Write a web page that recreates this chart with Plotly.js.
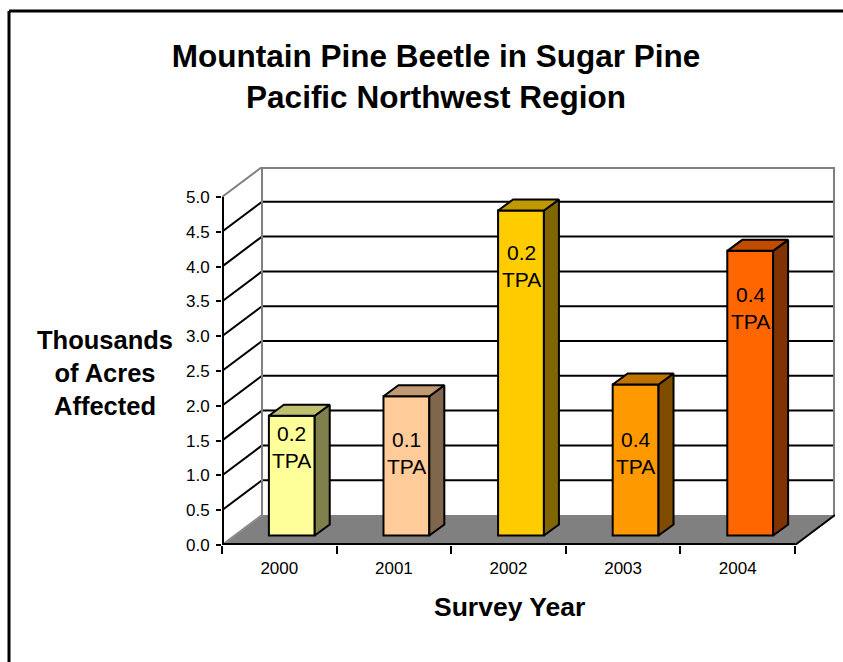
<!DOCTYPE html>
<html>
<head>
<meta charset="utf-8">
<script src="https://cdn.plot.ly/plotly-3.0.1.min.js"></script>
<style>html,body{margin:0;padding:0;background:#fff;}#chart{width:843px;height:662px;}</style>
</head>
<body>
<div id="chart"></div>
<script>
// ---- data ----
const years = ['2000', '2001', '2002', '2003', '2004'];
const acres = [1.72, 2.0, 4.67, 2.17, 4.09];          // thousands of acres affected
const tpa = ['0.2', '0.1', '0.2', '0.4', '0.4'];       // trees per acre labels
const yTicks = [0, 0.5, 1, 1.5, 2, 2.5, 3, 3.5, 4, 4.5, 5];
const yTickText = ['0.0', '0.5', '1.0', '1.5', '2.0', '2.5', '3.0', '3.5', '4.0', '4.5', '5.0'];
const labelHeights = [1.41, 1.32, 4.01, 1.32, 3.41];   // label centres, value units

// ---- styles ----
const faceColors = ['#FFFF99', '#FFCC99', '#FFCC00', '#FF9900', '#FF6600'];
const sideColors = ['#80804C', '#80664C', '#806600', '#804C00', '#803300'];
const topColors  = ['#BFBF72', '#BF9972', '#BF9900', '#BF7200', '#BF4C00'];
const FONT = 'Liberation Sans, Arial, sans-serif';

// ---- geometry (pixel scale of the reference) ----
const W = 843, H = 662;
const M = {l: 222, r: 8, t: 167, b: 117};
const PX_CAT = 114.6, PX_VAL = 69.6;
const WX = 40 / PX_CAT, WY = 30 / PX_VAL;   // wall depth
const BX = 15 / PX_CAT, BY = 11 / PX_VAL;   // bar depth
const SX = (WX - BX) / 2, SY = (WY - BY) / 2; // bar front-face shift
const BW = 0.4;
const n = years.length;
const xMin = -0.5, xMax = n - 0.5;
const vMax = yTicks[yTicks.length - 1];
const xIdx = years.map((_, i) => i);

const pw = W - M.l - M.r, ph = H - M.t - M.b;
const paperX = px => (px - M.l) / pw;
const paperY = py => (H - M.b - py) / ph;

// ---- traces ----
const traces = [];
traces.push({
  type: 'bar', x: xIdx, y: acres, base: SY, width: BW, offset: -BW / 2 + SX,
  marker: {color: faceColors, line: {color: '#000', width: 2}},
  hoverinfo: 'skip', showlegend: false
});
acres.forEach((v, i) => {
  const x0 = i - BW / 2 + SX, x1 = x0 + BW, b = SY, t = SY + v;
  traces.push({
    type: 'scatter', mode: 'lines', fill: 'toself', fillcolor: sideColors[i],
    x: [x1, x1 + BX, x1 + BX, x1, x1], y: [b, b + BY, t + BY, t, b],
    line: {color: '#000', width: 2}, hoverinfo: 'skip', showlegend: false
  });
  traces.push({
    type: 'scatter', mode: 'lines', fill: 'toself', fillcolor: topColors[i],
    x: [x0, x1, x1 + BX, x0 + BX, x0], y: [t, t, t + BY, t + BY, t],
    line: {color: '#000', width: 2}, hoverinfo: 'skip', showlegend: false
  });
});

// ---- shapes (walls, floor, grid) ----
const shapes = [];
const line = (x0, y0, x1, y1, color, width) => ({
  type: 'line', xref: 'x', yref: 'y', x0, y0, x1, y1, layer: 'below',
  line: {color, width}
});
shapes.push({
  type: 'path', xref: 'x', yref: 'y', layer: 'below',
  path: `M${xMin},0 L${xMax},0 L${xMax + WX},${WY} L${xMin + WX},${WY} Z`,
  fillcolor: '#808080', line: {width: 0}
});
yTicks.forEach(v => {
  if (v > 0 && v < vMax) {
    shapes.push(line(xMin + WX, v + WY, xMax + WX, v + WY, '#000', 2));
    shapes.push(line(xMin, v, xMin + WX, v + WY, '#000', 2));
  }
});
shapes.push(line(xMin + WX, vMax + WY, xMax + WX, vMax + WY, '#808080', 4));
shapes.push(line(xMin, vMax, xMin + WX, vMax + WY, '#808080', 2));
shapes.push(line(xMin, 0, xMin + WX, WY, '#8c8c8c', 2));
shapes.push(line(xMin + WX, WY, xMin + WX, vMax + WY, '#808080', 2));
shapes.push(line(xMax + WX, WY, xMax + WX, vMax + WY, '#808080', 4));
shapes.push(line(xMax, 0, xMax + WX, WY, '#000', 2));
shapes.push(line(xMin, 0, xMin, vMax, '#000', 4));
shapes.push(line(xMin, 0, xMax, 0, '#000', 4));
// outer frame
shapes.push({type: 'line', xref: 'paper', yref: 'paper', x0: paperX(9), x1: paperX(W + 5),
  y0: paperY(11), y1: paperY(11), line: {color: '#000', width: 3}});
shapes.push({type: 'line', xref: 'paper', yref: 'paper', x0: paperX(9), x1: paperX(9),
  y0: paperY(11), y1: paperY(H + 5), line: {color: '#000', width: 3}});

// ---- annotations ----
const annotations = acres.map((v, i) => ({
  xref: 'x', yref: 'y', x: i + SX, y: labelHeights[i], showarrow: false,
  text: tpa[i] + '<br>TPA', font: {family: FONT, size: 21, color: '#000'},
  xanchor: 'center', yanchor: 'middle'
}));
annotations.push({
  xref: 'paper', yref: 'paper', x: paperX(105), y: paperY(373), showarrow: false,
  text: 'Thousands<br>of Acres<br>Affected', xanchor: 'center', yanchor: 'middle',
  font: {family: FONT, size: 25.5, color: '#000', weight: 'bold'}
});
annotations.push({
  xref: 'paper', yref: 'paper', x: paperX(509), y: paperY(607), showarrow: false,
  text: 'Survey Year', xanchor: 'center', yanchor: 'middle',
  font: {family: FONT, size: 26.5, color: '#000', weight: 'bold'}
});

const layout = {
  width: W, height: H, margin: M, paper_bgcolor: '#fff', plot_bgcolor: '#fff',
  showlegend: false,
  title: {
    text: 'Mountain Pine Beetle in Sugar Pine<br>Pacific Northwest Region',
    x: 436 / W, xref: 'container', xanchor: 'center',
    y: 1 - 67 / H, yref: 'container', yanchor: 'middle',
    font: {family: FONT, size: 31.5, color: '#000', weight: 'bold'}
  },
  xaxis: {
    range: [xMin, xMax + WX], tickmode: 'array', tickvals: xIdx, ticktext: years,
    ticks: '', ticklabelstandoff: 11, showgrid: false, zeroline: false, showline: false,
    tickfont: {family: FONT, size: 17, color: '#000'}, fixedrange: true,
    minor: {tickmode: 'array', tickvals: years.map((_, i) => i - 0.5).concat([xMax]),
            ticks: 'outside', ticklen: 8, tickwidth: 2, tickcolor: '#000', showgrid: false}
  },
  yaxis: {
    range: [0, vMax + WY], tickmode: 'array', tickvals: yTicks, ticktext: yTickText,
    ticks: 'outside', ticklen: 5, tickwidth: 2, tickcolor: '#000',
    showgrid: false, zeroline: false, showline: false, ticklabelstandoff: 3,
    tickfont: {family: FONT, size: 17, color: '#000'}, fixedrange: true
  },
  shapes, annotations
};

Plotly.newPlot('chart', traces, layout, {displayModeBar: false, staticPlot: true});
</script>
</body>
</html>
